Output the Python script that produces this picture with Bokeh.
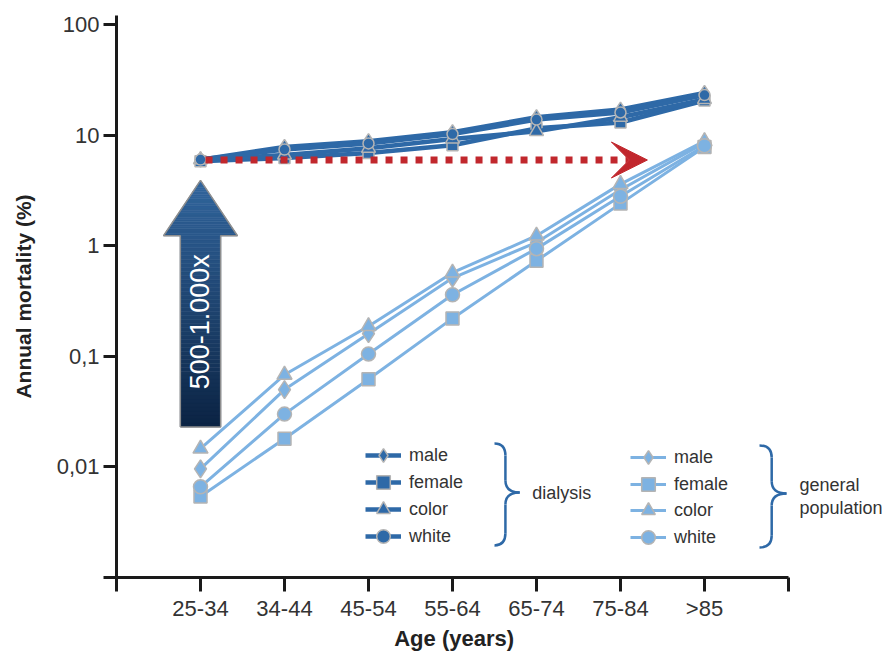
import math
import numpy as np
from bokeh.plotting import figure
from bokeh.models import (Range1d, FixedTicker, CustomJSTickFormatter, Legend,
                          LegendItem, Arrow, VeeHead)
from bokeh.core.properties import value
from bokeh.embed import file_html
from bokeh.resources import INLINE

# ---------------- data ----------------
age_groups = ["25-34", "34-44", "45-54", "55-64", "65-74", "75-84", ">85"]

dial_male   = [6.0, 7.8, 8.8, 10.6, 14.5, 17.0, 24.0]
dial_female = [5.8, 6.2, 6.9, 8.1, 11.5, 13.0, 20.5]
dial_color  = [6.0, 6.6, 7.6, 9.2, 10.8, 14.5, 21.0]
dial_white  = [6.0, 7.4, 8.4, 10.2, 13.8, 16.0, 23.0]

gen_male   = [0.0096, 0.050, 0.16, 0.51, 1.07, 3.2, 8.5]
gen_female = [0.0054, 0.018, 0.062, 0.22, 0.73, 2.4, 7.8]
gen_color  = [0.0146, 0.068, 0.187, 0.57, 1.23, 3.6, 8.8]
gen_white  = [0.0066, 0.030, 0.105, 0.36, 0.94, 2.8, 8.0]

series_labels = ["male", "female", "color", "white"]
markers = ["diamond", "square", "triangle", "circle"]
y_ticks = [0.001, 0.01, 0.1, 1, 10, 100]
arrow_text = "500-1.000x"
x_title = "Age (years)"
y_title = "Annual mortality (%)"

# ---------------- style ----------------
FONT = "Liberation Sans"
DIAL_COLOR = "#2e69a7"
GEN_COLOR = "#7db2e2"
OUTLINE = "#b4b4b4"
RED = "#c1272d"
AXIS = "#1a1a1a"
TEXT = "#333333"

x = list(range(1, len(age_groups) + 1))

p = figure(width=883, height=653,
           x_range=Range1d(0, 9.131), y_range=Range1d(0.001, 120.5),
           y_axis_type="log", output_backend="svg", toolbar_location=None,
           title=None, min_border_left=116, min_border_right=0,
           min_border_top=15, min_border_bottom=76)
p.outline_line_color = None
p.xgrid.visible = False
p.ygrid.visible = False
p.background_fill_color = "white"

# axes
for ax in (p.xaxis[0], p.yaxis[0]):
    ax.axis_line_width = 3
    ax.axis_line_color = AXIS
    ax.major_tick_line_width = 3
    ax.major_tick_line_color = AXIS
    ax.major_tick_in = 0
    ax.minor_tick_line_color = None
    ax.major_label_text_font = FONT
    ax.major_label_text_font_size = "22px"
    ax.major_label_text_color = TEXT
    ax.axis_label_text_font = FONT
    ax.axis_label_text_font_style = "bold"
    ax.axis_label_text_color = "#222222"

p.xaxis.bounds = (0, len(age_groups) + 1)
p.xaxis.ticker = FixedTicker(ticks=list(range(0, len(age_groups) + 2)))
p.xaxis.formatter = CustomJSTickFormatter(
    args=dict(labels=age_groups),
    code="const i = Math.round(tick) - 1; return (i >= 0 && i < labels.length) ? labels[i] : '';")
p.xaxis.major_tick_out = 14
p.xaxis.major_label_standoff = 4
# trailing no-break spaces shift the centred title over the bounded axis
p.xaxis.axis_label = x_title + "\u00a0" * 15
p.xaxis.axis_label_text_font_size = "22px"
p.xaxis.axis_label_standoff = 2

p.yaxis.ticker = FixedTicker(ticks=y_ticks)
p.yaxis.formatter = CustomJSTickFormatter(
    code="if (tick < 0.005) return ''; return String(tick).replace('.', ',');")
p.yaxis.major_tick_out = 13
p.yaxis.major_label_standoff = 4
p.yaxis.axis_label = y_title
p.yaxis.axis_label_text_font_size = "21px"
p.yaxis.axis_label_standoff = 19

# ---------------- big gradient arrow ----------------
ax0 = x[0]
shaft_hw, head_hw = 0.24, 0.44
l_tip, l_neck, l_base = math.log10(3.9), math.log10(1.23), math.log10(0.023)
c_bot = np.array([12, 36, 68])
c_top = np.array([50, 102, 158])
N = 48
xs, ys, cols = [], [], []
total = l_tip - l_base
for i in range(N):
    a = l_base + (l_neck - l_base) * i / N
    b = l_base + (l_neck - l_base) * (i + 1) / N
    t = ((a + b) / 2 - l_base) / total
    c = c_bot + (c_top - c_bot) * t
    cols.append("#%02x%02x%02x" % tuple(int(v) for v in c))
    xs.append([ax0 - shaft_hw, ax0 + shaft_hw, ax0 + shaft_hw, ax0 - shaft_hw])
    ys.append([10 ** a, 10 ** a, 10 ** b, 10 ** b])
M = 24
for i in range(M):
    a = l_neck + (l_tip - l_neck) * i / M
    b = l_neck + (l_tip - l_neck) * (i + 1) / M
    wa = head_hw * (1 - i / M)
    wb = head_hw * (1 - (i + 1) / M)
    t = ((a + b) / 2 - l_base) / total
    c = c_bot + (c_top - c_bot) * t
    cols.append("#%02x%02x%02x" % tuple(int(v) for v in c))
    xs.append([ax0 - wa, ax0 + wa, ax0 + wb, ax0 - wb])
    ys.append([10 ** a, 10 ** a, 10 ** b, 10 ** b])
p.patches(xs, ys, fill_color=cols, line_color=cols, line_width=0.6)
outline_x = [ax0 - shaft_hw, ax0 + shaft_hw, ax0 + shaft_hw, ax0 + head_hw, ax0,
             ax0 - head_hw, ax0 - shaft_hw, ax0 - shaft_hw]
outline_y = [10 ** l_base, 10 ** l_base, 10 ** l_neck, 10 ** l_neck, 10 ** l_tip,
             10 ** l_neck, 10 ** l_neck, 10 ** l_base]
p.line(outline_x, outline_y, line_color="#8e8e8e", line_width=1.5)
p.text(x=[ax0], y=[0.205], text=[arrow_text], angle=math.pi / 2,
       text_align="center", text_baseline="middle", text_color="white",
       text_font=value(FONT), text_font_size="27px")

# ---------------- series ----------------
def draw_group(values_list, color, lw, size_map):
    items = []
    for vals, mk, lab in zip(values_list, markers, series_labels):
        lr = p.line(x, vals, line_color=color, line_width=lw)
        sr = p.scatter(x, vals, marker=mk, size=size_map[mk], fill_color=color,
                       line_color=OUTLINE, line_width=1.5)
        items.append(LegendItem(label=lab, renderers=[lr, sr]))
    return items

dial_sizes = {"diamond": 15, "square": 11, "triangle": 14, "circle": 11}
gen_sizes = {"diamond": 18, "square": 13, "triangle": 15, "circle": 14}
dial_items = draw_group([dial_male, dial_female, dial_color, dial_white], DIAL_COLOR, 4.5, dial_sizes)
gen_items = draw_group([gen_male, gen_female, gen_color, gen_white], GEN_COLOR, 3, gen_sizes)

# red dotted arrow
y_start = float(np.mean([dial_male[0], dial_female[0], dial_color[0], dial_white[0]]))
p.add_layout(Arrow(end=VeeHead(size=36, fill_color=RED, line_color=RED),
                   x_start=x[0] + 0.06, y_start=y_start, x_end=6.32, y_end=y_start,
                   line_color=RED, line_width=7, line_dash="7 8"))

# ---------------- legends (one per row for row spacing) ----------------
FRAME_BOTTOM_PX = 577
GH = 34

def add_legend_rows(items, left, centers):
    for item, cy in zip(items, centers):
        p.add_layout(Legend(items=[item], location=(left, FRAME_BOTTOM_PX - cy - GH // 2),
                            orientation="vertical", glyph_width=36, glyph_height=GH,
                            spacing=0, label_standoff=8, label_height=20,
                            label_text_font=FONT, label_text_font_size="18px",
                            label_text_color=TEXT, padding=0, margin=0,
                            border_line_color=None, background_fill_alpha=0))

add_legend_rows(dial_items, 249, [455, 482, 509, 536])
add_legend_rows(gen_items, 514, [457, 484, 510, 537])

def brace(xl, xm, xt, lt, lm, lb, r=0.11):
    qx0 = [xl, xm, xt, xm]
    qy0 = [lt, lm + r, lm, lb + r]
    qx1 = [xm, xt, xm, xl]
    qy1 = [lt - r, lm, lm - r, lb]
    cx = [xm, xm, xm, xm]
    cy = [lt, lm, lm, lb]
    p.quadratic(x0=qx0, y0=[10 ** v for v in qy0], x1=qx1, y1=[10 ** v for v in qy1],
                cx=cx, cy=[10 ** v for v in cy], line_color=DIAL_COLOR, line_width=2.5)
    p.segment(x0=[xm, xm], y0=[10 ** (lt - r), 10 ** (lm - r)],
              x1=[xm, xm], y1=[10 ** (lm + r), 10 ** (lb + r)],
              line_color=DIAL_COLOR, line_width=2.5)

brace(4.5, 4.63, 4.8, -1.788, -2.231, -2.711)
brace(7.655, 7.8, 7.976, -1.806, -2.24, -2.729)

p.text(x=[4.95], y=[10 ** -2.24], text=["dialysis"], text_align="left",
       text_baseline="middle", text_font=value(FONT), text_font_size="18px", text_color=TEXT)
p.text(x=[8.13, 8.13], y=[10 ** -2.16, 10 ** -2.37], text=["general", "population"],
       text_align="left", text_baseline="middle", text_font=value(FONT),
       text_font_size="18px", text_color=TEXT)

open("out.html", "w").write(file_html(p, INLINE))
